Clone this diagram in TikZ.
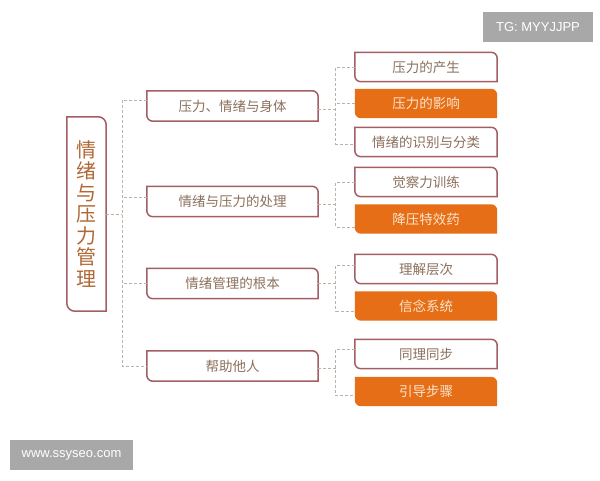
\documentclass[tikz,border=0pt]{standalone}
\usepackage{fontspec}
\setmainfont{Liberation Sans}
\newfontfamily\cjk{Noto Sans CJK SC}
\usetikzlibrary{positioning, backgrounds}

\definecolor{frameline}{RGB}{163,94,100}
\definecolor{hotorange}{RGB}{229,110,22}
\definecolor{linkgray}{RGB}{190,176,162}
\definecolor{plaintext}{RGB}{140,112,92}
\definecolor{hottext}{RGB}{252,228,205}
\definecolor{roottext}{RGB}{176,104,52}
\definecolor{markgray}{RGB}{168,168,168}

% box with rounded top right and bottom left corners
\tikzset{corner path/.style 2 args={insert path={([xshift=-#2]#1.north east) arc[start angle=90, end angle=0, radius=#2] -- (#1.south east) -- ([xshift=#2]#1.south west) arc[start angle=270, end angle=180, radius=#2] -- (#1.north west) -- cycle}}}

\begin{document}
\begin{tikzpicture}[x=1pt, y=1pt,
		every node/.style={inner sep=0pt, align=center},
		root/.style={minimum width=39pt, minimum height=194pt, text=roottext, font=\cjk\fontsize{20}{21.5}\selectfont},
		topic/.style={minimum width=171pt, minimum height=30pt, text=plaintext, font=\cjk\fontsize{13.5}{16}\selectfont},
		leaf/.style={minimum width=142pt, minimum height=29pt, text=plaintext, font=\cjk\fontsize{13.5}{16}\selectfont},
		hot/.style={leaf, text=hottext},
		frame/.style={draw=frameline, line width=1.5pt, fill=white},
		link/.style={draw=linkgray, line width=0.9pt, dash pattern=on 3pt off 2pt},
		stamp/.style={fill=markgray, text=white, minimum height=30pt, font=\fontsize{13}{15}\selectfont}
		]
		\useasboundingbox (0,0) rectangle (600,480);
		
		% Nodes
		\node[root] (root) at (86.5,266) {情\\绪\\与\\压\\力\\管\\理};
		\node[topic] (A1) at (232.5,374) {压力、情绪与身体};
		\node[topic] (A2) at (232.5,278.5) {情绪与压力的处理};
		\node[topic] (A3) at (232.5,196.5) {情绪管理的根本};
		\node[topic] (A4) at (232.5,114) {帮助他人};
		\node[leaf] (b1) at (426,413) {压力的产生};
		\node[hot] (b2) at (426,376.5) {压力的影响};
		\node[leaf] (b3) at (426,338) {情绪的识别与分类};
		\node[leaf] (c1) at (426,298) {觉察力训练};
		\node[hot] (c2) at (426,261) {降压特效药};
		\node[leaf] (d1) at (426,211) {理解层次};
		\node[hot] (d2) at (426,174) {信念系统};
		\node[leaf] (e1) at (426,126) {同理同步};
		\node[hot] (e2) at (426,88.5) {引导步骤};
		\node[stamp, minimum width=110pt] (tg) at (538,453) {TG: MYYJJPP};
		\node[stamp, minimum width=123pt] (site) at (71.5,25) {www.ssyseo.com};
		\coordinate (trunk) at (122,0);
		
		% Box shapes
		\begin{scope}[on background layer]
			\draw[frame] [corner path={root}{8pt}];
			\foreach \n in {A1,A2,A3,A4,b1,b3,c1,d1,e1}
				\draw[frame] [corner path={\n}{6pt}];
			\foreach \n in {b2,c2,d2,e2}
				\fill[hotorange] [corner path={\n}{6pt}];
		\end{scope}
		
		% Links
		\draw[link] (root.east) -- (trunk |- root.east);
		\draw[link] ([yshift=6pt]A1.west) -| (trunk |- A4.west) -- (A4.west);
		\foreach \n/\dy in {A2/4.5,A3/0}
			\draw[link] ([yshift=\dy pt]\n.west) -- ++(-25,0);
		\foreach \p/\f/\l/\py/\fy/\ly in {A1/b1/b3/-3/0/-2, A2/c1/c2/-2.5/0/-8, A3/d1/d2/0/4/-5, A4/e1/e2/-2/5/-4}{
			\draw[link] ([yshift=\py pt]\p.east) -- ++(18,0);
			\draw[link] ([yshift=\fy pt]\f.west) -- ++(-19,0) |- ([yshift=\ly pt]\l.west);
		}
		\draw[link] (b2.west) -- ++(-19,0);
		
	\end{tikzpicture}
\end{document}
